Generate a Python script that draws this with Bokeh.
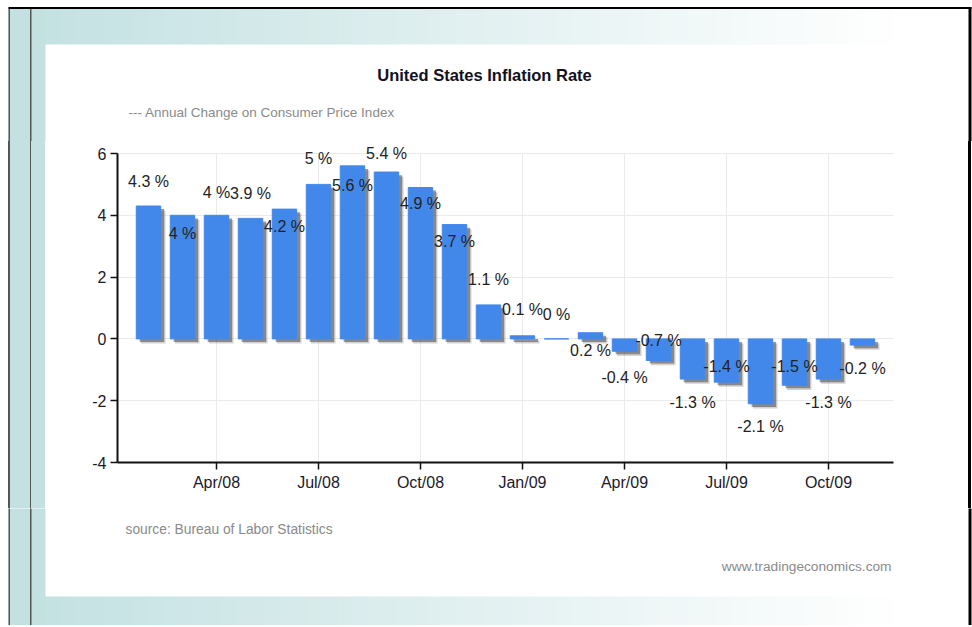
from bokeh.plotting import figure
from bokeh.layouts import column
from bokeh.models import Range1d, FixedTicker, ColumnDataSource
from bokeh.core.properties import value
from bokeh.embed import file_html
from bokeh.resources import INLINE

# ---- data ----
months = ["Jan/08", "Feb/08", "Mar/08", "Apr/08", "May/08", "Jun/08", "Jul/08", "Aug/08",
          "Sep/08", "Oct/08", "Nov/08", "Dec/08", "Jan/09", "Feb/09", "Mar/09", "Apr/09",
          "May/09", "Jun/09", "Jul/09", "Aug/09", "Sep/09", "Oct/09"]
inflation = [4.3, 4.0, 4.0, 3.9, 4.2, 5.0, 5.6, 5.4, 4.9, 3.7, 1.1, 0.1,
             0.0, 0.2, -0.4, -0.7, -1.3, -1.4, -2.1, -1.5, -1.3, -0.2]
label_offsets = [0.78, -0.59, 0.74, 0.82, -0.56, 0.83, -0.62, 0.59, -0.53, -0.54, 0.83, 0.85,
                 0.79, -0.56, -0.86, 0.64, -0.75, 0.51, -0.72, 0.61, -0.75, -0.76]
tick_labels = ["Apr/08", "Jul/08", "Oct/08", "Jan/09", "Apr/09", "Jul/09", "Oct/09"]
tick_index = [2, 5, 8, 11, 14, 17, 20]
y_ticks = [-4, -2, 0, 2, 4, 6]

title = "United States Inflation Rate"
subtitle = "---  Annual Change on Consumer Price Index"
source_note = "source: Bureau of Labor Statistics"
site_note = "www.tradingeconomics.com"

# ---- layout constants (page px) ----
W, H = 972, 625
HEAD_H, MAIN_H = 141, 367
FOOT_H = H - HEAD_H - MAIN_H
FONT = "Liberation Sans"
BAR = "#4288EA"
TEAL = (196, 225, 226)
STRIP = "#C4E1E2"
GRAYLINE = "#555555"


def lerp(c1, c2, t):
    return "#%02x%02x%02x" % tuple(int(round(a + (b - a) * t)) for a, b in zip(c1, c2))


def canvas_fig(height, y0):
    f = figure(width=W, height=height, output_backend="svg", toolbar_location=None,
               x_range=Range1d(0, W), y_range=Range1d(y0 + height, y0),
               min_border=0, x_axis_location=None, y_axis_location=None)
    f.frame_align = False
    f.grid.visible = False
    f.outline_line_color = None
    f.background_fill_color = "white"
    f.border_fill_color = "white"
    return f


def decorate(f, y0, y1, band):
    bt, bb = band
    n = 60
    xa, xb = 31, 907
    lefts = [xa + (xb - xa) * k / n for k in range(n)]
    rights = [xa + (xb - xa) * (k + 1) / n + 0.6 for k in range(n)]
    cols = [lerp(TEAL, (255, 255, 255), (k + 0.5) / n) for k in range(n)]
    f.quad(left=lefts, right=rights, top=[bt] * n, bottom=[bb] * n, fill_color=cols, line_color=None)
    f.quad(left=[8], right=[45], top=[y0], bottom=[y1], fill_color=STRIP, line_color=None)
    f.quad(left=[8, 29.5], right=[9.5, 31], top=[y0, y0], bottom=[y1, y1],
           fill_color=GRAYLINE, line_color=None)
    f.quad(left=[968], right=[971], top=[y0], bottom=[y1], fill_color="black", line_color=None)


# ---- header ----
head = canvas_fig(HEAD_H, 0)
decorate(head, 7, HEAD_H + 3, band=(8.5, 44))
head.quad(left=[8], right=[971], top=[6.5], bottom=[8.5], fill_color="black", line_color=None)
head.text(x=[484], y=[74], text=[title], text_align="center", text_baseline="middle",
          text_font=value(FONT), text_font_size="16.5px", text_font_style="bold", text_color="#111122")
head.text(x=[128], y=[112], text=[subtitle], text_align="left", text_baseline="middle",
          text_font=value(FONT), text_font_size="13.5px", text_color="#8a8a8a")

# ---- footer ----
foot = canvas_fig(FOOT_H, HEAD_H + MAIN_H)
decorate(foot, HEAD_H + MAIN_H - 3, H + 3, band=(596, H + 3))
foot.text(x=[125], y=[529], text=[source_note], text_align="left", text_baseline="middle",
          text_font=value(FONT), text_font_size="13.8px", text_color="#8a8a8a")
foot.text(x=[891], y=[566], text=[site_note], text_align="right", text_baseline="middle",
          text_font=value(FONT), text_font_size="13.7px", text_color="#8a8a8a")

# ---- main chart ----
FL, FR, FB = 117, 893, 462 - HEAD_H          # frame edges inside main figure
y_top = 6 + (153 - HEAD_H) * 10 / 309.0      # frame top a little above the 6 line

xs = list(range(len(inflation)))
src = ColumnDataSource(dict(
    x=xs,
    top=[max(v, 0) for v in inflation],
    bottom=[min(v, 0) for v in inflation],
    ly=[v + o for v, o in zip(inflation, label_offsets)],
    txt=[f"{v:g} %" for v in inflation],
))

side_bg = ("linear-gradient(to right, #fff 0px, #fff 8px, #555 8px, #555 9.5px, "
           "#C4E1E2 9.5px, #C4E1E2 29.5px, #555 29.5px, #555 31px, #C4E1E2 31px, "
           "#C4E1E2 45px, #fff 45px, #fff 968px, #000 968px, #000 971px, #fff 971px)")

p = figure(width=W, height=MAIN_H, output_backend="svg", toolbar_location=None,
           x_range=Range1d(-0.912, 21.912), y_range=Range1d(-4, y_top),
           min_border_left=FL, min_border_right=W - FR, min_border_top=0,
           min_border_bottom=MAIN_H - FB)
p.frame_align = False
p.styles = {"background": side_bg}
p.background_fill_color = "white"
p.border_fill_color = None
p.outline_line_color = None

# grid
p.xgrid.visible = False
p.ygrid.ticker = FixedTicker(ticks=y_ticks)
p.ygrid.grid_line_color = "#EBEBEB"
p.segment(x0=tick_index, x1=tick_index, y0=[-4] * len(tick_index), y1=[6] * len(tick_index),
          line_color="#EBEBEB", line_width=1)

# shadows (soft, offset right/down)
for ddx, ddy, a in [(0.14, 0.15, 0.25), (0.10, 0.10, 0.55)]:
    p.vbar(x=[x + ddx for x in xs], width=0.72,
           top=[max(v, 0) - ddy for v in inflation], bottom=[min(v, 0) - ddy for v in inflation],
           fill_color="#4a4a4a", fill_alpha=a, line_color=None)
p.vbar(x="x", top="top", bottom="bottom", width=0.72, source=src,
       fill_color=BAR, line_color=BAR)

p.text(x="x", y="ly", text="txt", source=src, text_align="center", text_baseline="middle",
       text_font=value(FONT), text_font_size="16px", text_color="#222222")

# axes
p.yaxis.ticker = FixedTicker(ticks=y_ticks)
p.yaxis.major_label_overrides = {t: f"{t}" for t in y_ticks}
p.yaxis.bounds = (-4, 6)
p.xaxis.ticker = FixedTicker(ticks=tick_index)
p.xaxis.major_label_overrides = {i: t for i, t in zip(tick_index, tick_labels)}
for ax in (p.xaxis[0], p.yaxis[0]):
    ax.axis_line_color = "#111111"
    ax.axis_line_width = 2
    ax.major_tick_line_color = "#111111"
    ax.major_tick_line_width = 1.5
    ax.major_tick_out = 7
    ax.major_tick_in = 0
    ax.minor_tick_line_color = None
    ax.major_label_text_font = FONT
    ax.major_label_text_font_size = "16px"
    ax.major_label_text_color = "#1a1a2a"
    ax.major_label_standoff = 4

layout = column(head, p, foot, spacing=0)

open("out.html", "w").write(file_html(layout, INLINE))
